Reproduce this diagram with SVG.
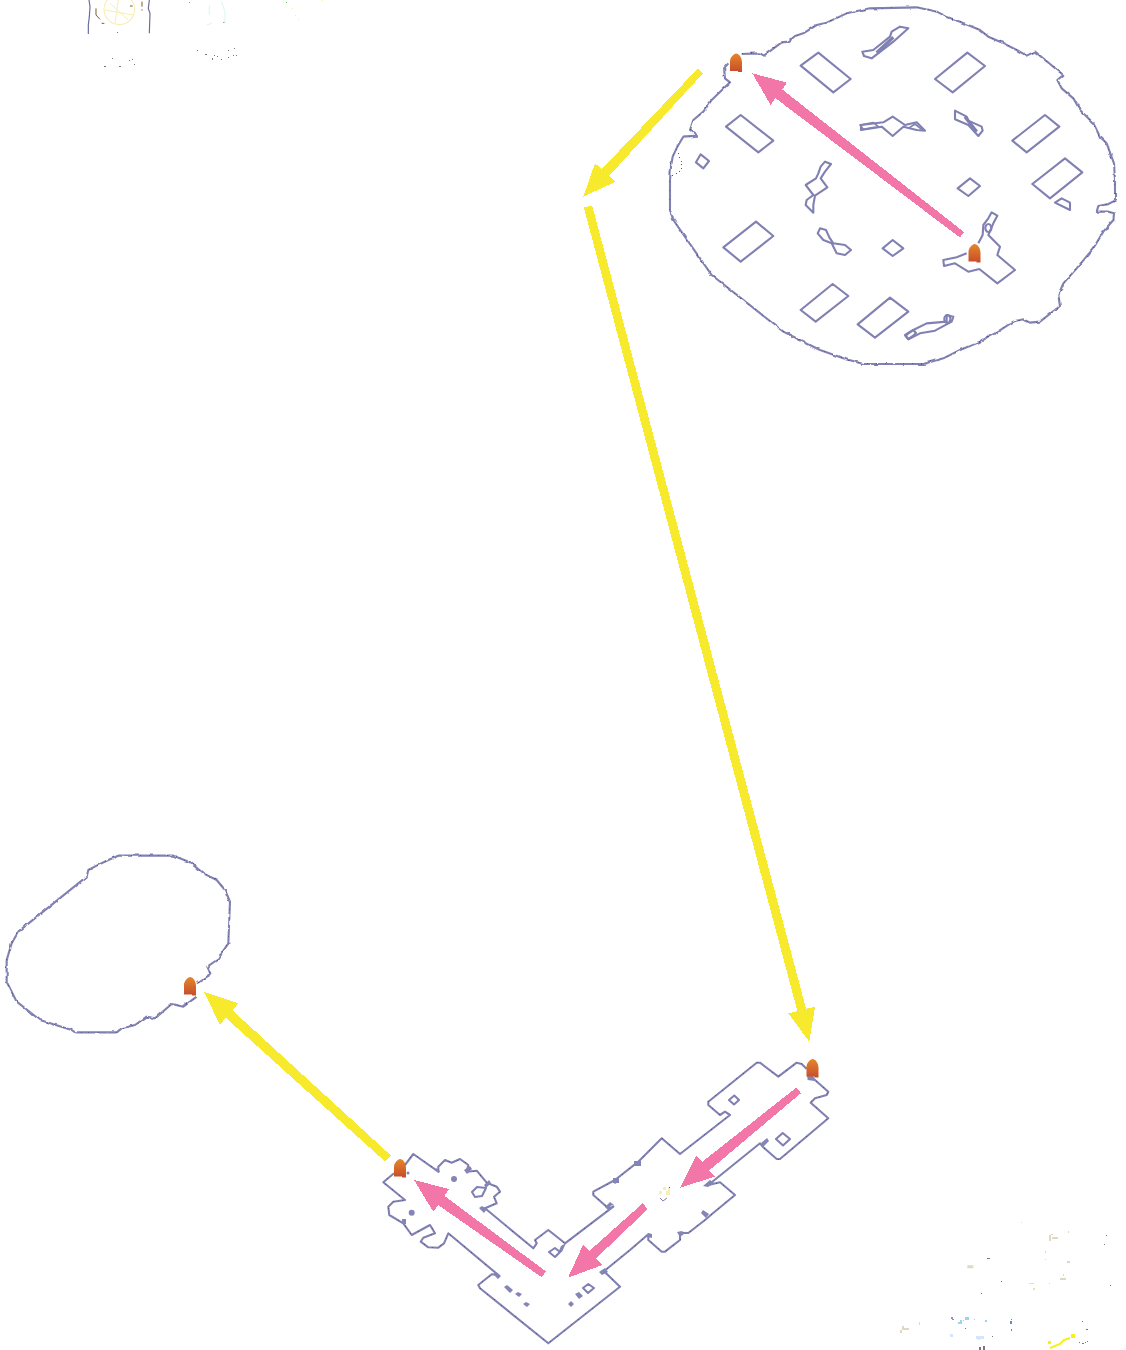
<svg xmlns="http://www.w3.org/2000/svg" width="1126" height="1350" viewBox="0 0 1126 1350">
<style>
.o{fill:none;stroke:#8080b2;stroke-linejoin:round}
.d{fill:none;stroke:#55558a;stroke-linecap:butt;shape-rendering:crispEdges}
.b{fill:#8585b5;stroke:none}
.ph{fill:#f277a8;shape-rendering:crispEdges}
.yl{fill:#f7ea2c;shape-rendering:crispEdges}
.s3{stroke-width:6.300}
.s1{stroke-width:2.100}
.pale{fill:#f8eeb4}
.grey{fill:#77778a}
.sand{fill:#ddd9c4}
</style>
<defs>
<linearGradient id="fl" x1="0" y1="0" x2="0" y2="1"><stop offset="0" stop-color="#e5862a"/><stop offset="1" stop-color="#c64c2a"/></linearGradient>
<filter id="rough3" x="-5%" y="-5%" width="110%" height="110%"><feTurbulence type="fractalNoise" baseFrequency=".045" numOctaves="2" seed="4"/><feDisplacementMap in="SourceGraphic" scale="9" xChannelSelector="R" yChannelSelector="G"/></filter>
<symbol id="flame" overflow="visible"><path d="M-6 17.500V8C-6 4 -2 0 0 0C3 0 6 4 6 9V18.500H2V17.500Z" fill="url(#fl)"/></symbol>
<path id="outline-top" d="M245 162L300 160L312 167L365 127L385 125L405 108L430 100L470 75L500 68L560 40L630 25L770 22L830 35L860 50L900 65L960 90L985 110L1020 125L1070 150L1100 167L1125 155L1210 225L1192 240L1205 265L1240 295L1260 330L1300 370L1320 410L1340 430L1362 490L1365 540L1365 602L1345 612L1315 618L1310 635L1345 635L1362 640L1360 660L1330 695L1300 745L1275 775L1250 805L1210 850L1195 885L1200 918L1140 965L1110 968L1090 958L1060 965L1010 997L960 1025L900 1050L850 1075L790 1092L610 1092L550 1075L480 1050L420 1020L370 995L155 825L120 775L85 725L40 660L30 630L30 540L33 500L38 470L52 440L70 410L113 407L90 390L100 360L130 335L155 300L210 247L195 235L192 205L205 190"/>
<path id="outline-left" d="M590 415L632 388L622 365L655 342L668 320L685 295L690 170L675 135L650 105L610 85L570 52L520 32L355 32L325 45L290 62L265 75L260 95L55 260L35 295L20 345L20 410L50 470L120 525L215 555L225 562L350 562L365 550L405 540L440 515L465 520L515 477L550 485L590 455"/>
<path id="outline-bottom" d="M807.700 1079L815 1080L828.300 1091.700L826.700 1095L815 1098.300L810.700 1102.700L828.300 1118.300L780 1159L776.700 1159L762.700 1146.700L760 1143.300L716.700 1178.300L708.300 1185L720 1182.300L735 1195L711.700 1214.300L705 1220L688.300 1233L680 1232.700L680 1240L665 1251.700L661.700 1251.700L648.300 1240L648.300 1234.300L630 1250L603.300 1271.700L605 1272.300L620 1286.700L548.300 1343.300L480 1288.300L478.300 1285L491.700 1274.300L498.300 1275L448.300 1233.300L444 1243.300L438.300 1247.700L428.300 1247.300L420.700 1241.700L423.300 1237.700L435 1233.300L430 1225L411.700 1235L403.300 1223.300L389.300 1215L388.300 1206.700L393.300 1201.700L405 1200L383.300 1182.300L394 1173.300M405 1165L413.300 1154L438.300 1171.700L438.300 1166.700L445 1160L451.700 1162.700L460 1159L468.300 1165L466.700 1171.700L476.700 1170.700L486.700 1182.700L496.700 1186.700L500 1191.700L494 1196.700L496.700 1203.300L485 1208.300L533.300 1248.300L536.700 1243.300L535 1240L548.300 1230L565 1243.300L613.300 1206.700L608.300 1208.300L593.300 1195L593.300 1191.700L615 1180L638.300 1161.700L661.700 1138.300L680 1154L730 1115L725 1111.700L720 1115L708.300 1105L708.300 1101.700L756.700 1062.700L760 1062.700L778.300 1076.700L796.700 1062.700L801.700 1064L806.700 1069"/>
</defs>
<g id="connectors">
<polygon class="yl" points="703.1,73.2 609.05,175.9 615.7,181.7 583.3,196.7 595,163.3 601.75,169.1 697.9,68.4"/>
<polygon class="yl" points="592.15,205.4 806.05,1008.8 815,1006.7 809.3,1041.7 788.3,1013.3 797.35,1011.2 583.85,207.6"/>
<polygon class="yl" points="390.83,1155.4 232.37,1010.3 238.3,1003.3 204,991.7 220,1025 225.63,1017.7 385.17,1161.6"/>
<polygon class="ph" points="964.07,232.1 782.16,89.44 787,82.7 752.3,73.3 770.7,105 775.44,98.16 959.93,237.5"/>
<polygon class="ph" points="801,1093.1 709,1170.6 715,1176.7 680,1187.7 696,1156 702,1162 796.4,1087.5"/>
<polygon class="ph" points="647.8,1209 596.2,1258.3 602.3,1265 568,1277.7 583.3,1244.3 589.4,1250.9 642.6,1203.4"/>
<polygon class="ph" points="545.9,1271.4 444.4,1195.9 449,1189 414,1180 433.3,1211.7 438,1204.9 541.7,1277.2"/>
</g>
<g id="map-top" transform="translate(660 0) scale(.33333)">
<g filter="url(#rough3)">
<use href="#outline-top" class="o s3"/>
<use href="#outline-top" class="d" stroke-width="2.500" stroke-dasharray="3 24"/>
</g>
<g class="o s3">
<path d="M475 158L572 237L520 277L422 197ZM922 158L975 198L878 277L825 237ZM242 345L340 422L295 457L198 380ZM1155 345L1198 380L1100 457L1057 422ZM1215 475L1267 517L1170 595L1117 552ZM288 665L340 708L242 785L190 742ZM518 852L565 888L467 965L422 930ZM690 893L745 935L645 1013L593 973ZM930 535L960 558L925 588L893 565ZM698 720L730 745L698 768L668 745ZM1205 595L1230 608L1230 630L1185 608ZM122 463L147 483L130 505L108 487Z"/>
<path d="M607 155L640 150L690 110L695 95L720 80L745 85L700 125L635 175L612 168ZM603 375L670 367L698 350L735 375L770 367L795 392L770 390L730 380L698 408L665 380L603 390ZM885 332L920 350L925 362L965 380L968 392L955 408L925 375L885 358ZM735 1005L760 990L800 970L860 965L860 945L880 950L875 965L825 992L780 1000L745 1018ZM920 760L890 772L850 780L852 798L885 790L925 815L958 807L1012 850L1065 810L1012 765L1020 740L985 705L1000 670L1012 647L995 637L985 655L970 675L968 705L955 730"/>
<path transform="translate(390 450)" d="M105 35L123 42L105 65L92 85L112 112L75 137L70 165L70 188L47 165L50 150L70 135L47 105L78 85L85 70L92 50ZM90 235L108 240L118 262L130 280L165 285L183 300L165 315L140 310L125 280L100 270L83 250Z"/>
<path d="M650 158L700 112M915 350L950 395" stroke-width="10"/>
<path d="M600 375L640 368L655 380L610 388ZM790 392L765 372L745 385" stroke-width="5"/>
<path d="M985 672a9 12 0 1 0 .1 0ZM862 945a9 12 0 1 0 .1 0ZM760 990l-15 10l-8 8l8 9l15 -10l8 -8Z"/>
</g>
<path class="d" stroke-width="3" stroke-dasharray="3 9" d="M50 448L65 490L65 512L35 528"/>
</g>
<g id="map-bottom">
<g class="o s1">
<use href="#outline-bottom"/>
<path d="M734.300 1095.500L739 1100L734 1104.500L729 1100ZM782.700 1133L790 1139L783 1145.500L776 1139ZM555 1248L560 1252L555 1257L549 1252Z"/>
<path d="M477 1187L486 1188L482 1196L475 1197L472 1192ZM588.300 1284L594 1288L588 1293L583 1288Z"/>
</g>
<use href="#outline-bottom" class="d" stroke-width=".9" stroke-dasharray="1 8"/>
<path class="b" d="M807 1076h6l3 4h-8ZM761 1143l6-5 2 3-6 6ZM708 1187l-5-1 7-6 4 3ZM703 1210l6 4-3 4-5-5ZM677 1232l5-1 2 3-4 3ZM648 1233l4 1v4l-5-1ZM599 1272l6-4 3 4-6 3ZM496 1272l5 4-3 3-5-5ZM482 1206l5 3-3 4-5-5ZM464 1170l6-4 2 3-5 5ZM484 1185l5-5 2 3-5 5ZM610 1202l4 3-5 6-4-4ZM566 1243l-5 3-3 7 4-1ZM402 1219h4v5h-4ZM440 1171l-4-3-1 2 4 3ZM634 1161h7v5h-7ZM613 1178h6v5h-6ZM612 1205l-4 3 2 2 4-3Z"/>
<circle class="b" cx="454" cy="1179" r="3"/><circle class="b" cx="411.700" cy="1212.700" r="3"/><circle class="b" cx="408" cy="1173" r="1.500"/>
<path class="b" d="M504 1287l3-2 6 5-3 3ZM515 1294l3-2 4 2-3 3ZM523 1304l3-2 4 2-3 3ZM568 1304l3-3 3 3-3 3ZM575 1294l4-2 4 4-4 3ZM615 1178l3 4-3 2-3-3Z"/>
<path class="pale" d="M663 1187h3v3h-3ZM668 1187h2v8h-4v-4h2ZM659 1191h3v3h-3Z"/>
<rect x="669" y="1187" width="1" height="1" fill="#d03030"/>
<path class="o" stroke-width="1" d="M660 1198L663 1201L667 1198"/>
</g>
<g id="map-left" transform="translate(0 845) scale(.33333)">
<g filter="url(#rough3)">
<use href="#outline-left" class="o s3"/>
<use href="#outline-left" class="d" stroke-width="2.500" stroke-dasharray="3 24"/>
</g>
</g>
<g id="marker-1"><use href="#flame" x="736" y="53.500"/></g>
<g id="marker-2"><use href="#flame" x="974.500" y="244"/></g>
<g id="marker-3"><use href="#flame" x="812.500" y="1059"/></g>
<g id="marker-4"><use href="#flame" x="400" y="1159"/></g>
<g id="marker-5"><use href="#flame" x="190" y="977"/></g>
<g id="specks-top" transform="translate(70 0) scale(.33333)">
<path d="M57 0L60 20L58 50L55 75L55 102M238 0L235 25L240 40L238 100" fill="none" stroke="#6a6a9a" stroke-width="3.500"/>
<circle cx="148" cy="28" r="46" fill="none" stroke="#f8eeb4" stroke-width="3.500"/>
<path d="M105 30L190 45M145 0L135 70M120 10L175 60" fill="none" stroke="#f8eeb4" stroke-width="3"/>
<path d="M78 25V45L90 58M180 18h8M216 5v15M216 28v4M95 70h8" fill="none" stroke="#7a5f2a" stroke-width="3"/>
<path d="M418 15v30M410 75l15-5M455 5l10 30v35" fill="none" stroke="#dcf5f0" stroke-width="3"/>
<path d="M357 6h3v3h-3ZM648 6h3v3h-3Z" fill="#5ccc5c"/>
<path d="M755 0h3v3h-3ZM665 24h3v3h-3ZM675 45h3v3h-3ZM684 56h3v3h-3Z" fill="#f5efa0"/>
<path class="grey" d="M141 96h3v3h-3ZM126 174h3v3h-3ZM177 180h3v3h-3ZM186 177h3v3h-3ZM192 192h3v3h-3ZM102 198h6v3h-6ZM147 198h6v3h-6ZM381 150h3v3h-3ZM405 162h6v3h-6ZM432 165h3v3h-3ZM441 168h3v3h-3ZM426 174h3v6h-3ZM453 177h3v3h-3ZM474 150h3v3h-3ZM492 144h3v3h-3ZM489 165h3v3h-3ZM498 165h3v3h-3ZM474 171h3v3h-3ZM460 66h3v3h-3Z"/>
</g>
<g id="specks-bottom" transform="translate(890 1220) scale(.33333)">
<path class="sand" d="M477 45h6v18h-6ZM483 42h6v3h-6ZM486 51h18v6h-18ZM534 33h3v6h-3ZM465 93h3v6h-3ZM465 117h3v3h-3ZM531 123h9v6h-9ZM519 162h3v6h-3ZM510 174h18v6h-18ZM477 189h3v3h-3ZM30 330h6v9h-6ZM36 318h6v12h-6ZM42 324h15v6h-15ZM87 306h3v9h-3ZM232 136h18v9h-18Z"/>
<path d="M417 189h15v3h-15ZM429 204h6v6h-6ZM393 6h3v3h-3Z" fill="#f8dca0"/>
<path class="grey" d="M648 45h3v3h-3ZM642 72h3v3h-3ZM291 114h9v3h-9ZM333 183h3v3h-3ZM273 219h3v3h-3ZM660 195h3v3h-3ZM225 324h3v3h-3ZM306 348h3v3h-3ZM576 303h3v3h-3ZM588 327h6v3h-6ZM567 366h3v3h-3ZM576 369h6v3h-6ZM585 366h3v3h-3ZM591 363h3v3h-3ZM267 381h6v9h-6ZM279 378h6v12h-6Z"/>
<path d="M183 291h6v6h-6ZM186 297h6v3h-6Z" fill="#9a88cc"/>
<path d="M225 291h12v9h-12ZM204 306h12v6h-12ZM210 300h6v6h-6ZM285 300h6v6h-6ZM219 300h3v3h-3ZM252 297h3v3h-3Z" fill="#9cd2f2"/>
<path d="M360 303h6v9h-6ZM363 327h3v6h-3ZM363 297h3v3h-3Z" fill="#6a88d0"/>
<path d="M180 342h9v9h-9ZM258 348h24v9h-24ZM264 357h6v3h-6Z" fill="#d8e4fa"/>
<path d="M480 384L510 372L522 360L540 354M546 345h6v6h-6ZM474 366h6v3h-6" stroke="#f5f020" stroke-width="6" fill="none"/>
</g>
</svg>
